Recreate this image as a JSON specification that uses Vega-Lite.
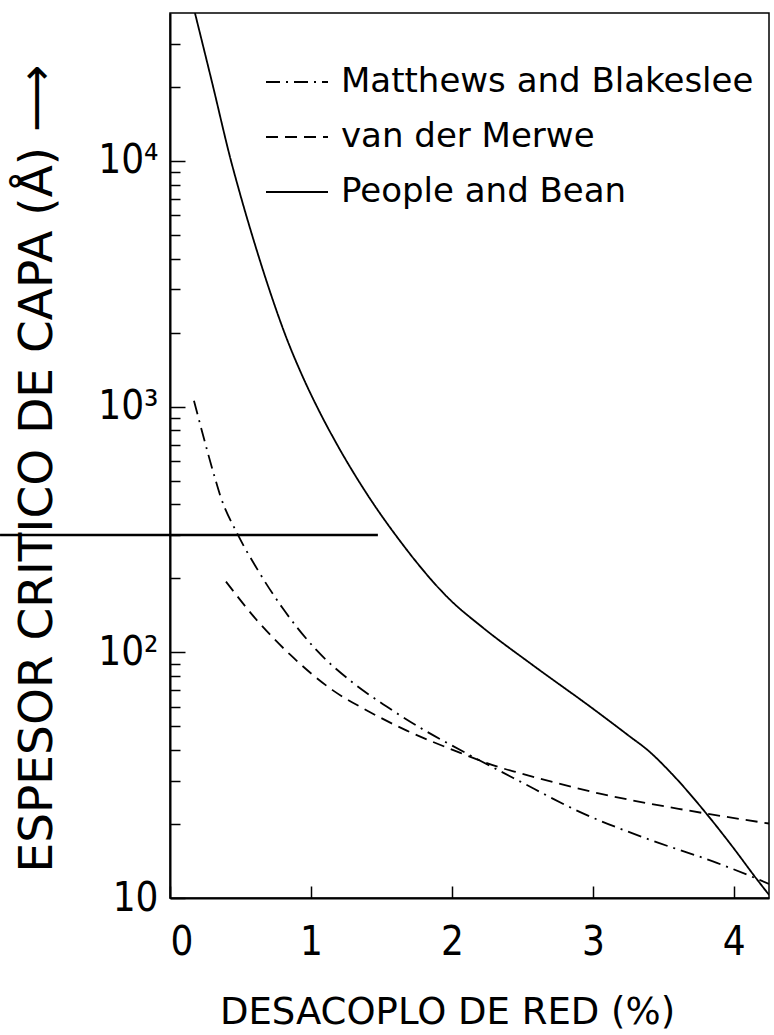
{
  "$schema": "https://vega.github.io/schema/vega-lite/v6.json",
  "width": 599,
  "height": 885,
  "autosize": {"type": "none"},
  "padding": {"left": 170, "top": 13, "right": 5, "bottom": 137},
  "background": "white",
  "config": {
    "view": {"stroke": "black", "strokeWidth": 1.5},
    "axis": {
      "grid": false,
      "domainColor": "black",
      "domainWidth": 2,
      "tickColor": "black",
      "tickWidth": 1.5,
      "labelColor": "black",
      "titleColor": "black",
      "labelFont": "Liberation Sans Narrow, DejaVu Sans Condensed, Liberation Sans, sans-serif",
      "labelFontSize": 40,
      "labelFontWeight": "normal",
      "titleFont": "DejaVu Sans, sans-serif",
      "titleFontWeight": "normal"
    }
  },
  "datasets": {
    "curves": [
      {"model": "People and Bean", "x": 0.177, "y": 40000},
      {"model": "People and Bean", "x": 0.30, "y": 20700},
      {"model": "People and Bean", "x": 0.433, "y": 10000},
      {"model": "People and Bean", "x": 0.496, "y": 7380},
      {"model": "People and Bean", "x": 0.60, "y": 4624},
      {"model": "People and Bean", "x": 0.709, "y": 2944},
      {"model": "People and Bean", "x": 0.82, "y": 1945},
      {"model": "People and Bean", "x": 0.943, "y": 1318},
      {"model": "People and Bean", "x": 1.06, "y": 955},
      {"model": "People and Bean", "x": 1.184, "y": 703},
      {"model": "People and Bean", "x": 1.383, "y": 454},
      {"model": "People and Bean", "x": 1.62, "y": 290},
      {"model": "People and Bean", "x": 1.99, "y": 163},
      {"model": "People and Bean", "x": 2.22, "y": 126},
      {"model": "People and Bean", "x": 2.57, "y": 89},
      {"model": "People and Bean", "x": 3.0, "y": 59},
      {"model": "People and Bean", "x": 3.25, "y": 46},
      {"model": "People and Bean", "x": 3.40, "y": 39.5},
      {"model": "People and Bean", "x": 3.55, "y": 32.5},
      {"model": "People and Bean", "x": 3.81, "y": 21.9},
      {"model": "People and Bean", "x": 3.99, "y": 16.2},
      {"model": "People and Bean", "x": 4.16, "y": 12.0},
      {"model": "People and Bean", "x": 4.25, "y": 10.3},
      {"model": "Matthews and Blakeslee", "x": 0.17, "y": 1057},
      {"model": "Matthews and Blakeslee", "x": 0.319, "y": 512},
      {"model": "Matthews and Blakeslee", "x": 0.355, "y": 437},
      {"model": "Matthews and Blakeslee", "x": 0.475, "y": 306},
      {"model": "Matthews and Blakeslee", "x": 0.617, "y": 219},
      {"model": "Matthews and Blakeslee", "x": 0.80, "y": 151},
      {"model": "Matthews and Blakeslee", "x": 1.04, "y": 102},
      {"model": "Matthews and Blakeslee", "x": 1.30, "y": 75},
      {"model": "Matthews and Blakeslee", "x": 1.54, "y": 60},
      {"model": "Matthews and Blakeslee", "x": 1.77, "y": 49.5},
      {"model": "Matthews and Blakeslee", "x": 2.06, "y": 40},
      {"model": "Matthews and Blakeslee", "x": 2.46, "y": 30.3},
      {"model": "Matthews and Blakeslee", "x": 2.93, "y": 22.1},
      {"model": "Matthews and Blakeslee", "x": 3.40, "y": 17.3},
      {"model": "Matthews and Blakeslee", "x": 3.88, "y": 13.9},
      {"model": "Matthews and Blakeslee", "x": 4.16, "y": 12.0},
      {"model": "Matthews and Blakeslee", "x": 4.25, "y": 11.4},
      {"model": "van der Merwe", "x": 0.397, "y": 194},
      {"model": "van der Merwe", "x": 0.617, "y": 135},
      {"model": "van der Merwe", "x": 0.851, "y": 98},
      {"model": "van der Merwe", "x": 1.156, "y": 70},
      {"model": "van der Merwe", "x": 1.397, "y": 58},
      {"model": "van der Merwe", "x": 1.68, "y": 48},
      {"model": "van der Merwe", "x": 2.01, "y": 40},
      {"model": "van der Merwe", "x": 2.34, "y": 34},
      {"model": "van der Merwe", "x": 2.46, "y": 32.5},
      {"model": "van der Merwe", "x": 3.05, "y": 26.6},
      {"model": "van der Merwe", "x": 3.64, "y": 22.9},
      {"model": "van der Merwe", "x": 4.25, "y": 20.1}
    ],
    "marker": [
      {"x": -1.206, "x2": 1.475, "y": 300}
    ]
  },
  "layer": [
    {
      "data": {"name": "curves"},
      "mark": {"type": "line", "color": "black", "strokeWidth": 1.8, "clip": true, "interpolate": "monotone"},
      "encoding": {
        "x": {
          "field": "x",
          "type": "quantitative",
          "scale": {"domain": [0, 4.25], "nice": false, "zero": false},
          "axis": {
            "values": [0, 1, 2, 3, 4],
            "format": "d",
            "tickSize": -12,
            "labelPadding": 36,
            "labelBaseline": "top",
            "title": "DESACOPLO DE RED (%)",
            "titleFontSize": 37,
            "titleX": 277,
            "titleY": 125,
            "titleAlign": "center",
            "titleBaseline": "alphabetic"
          }
        },
        "y": {
          "field": "y",
          "type": "quantitative",
          "scale": {"type": "log", "domain": [10, 40000], "nice": false},
          "axis": {
            "values": [10, 20, 30, 40, 50, 60, 70, 80, 90, 100, 200, 300, 400, 500, 600, 700, 800, 900, 1000, 2000, 3000, 4000, 5000, 6000, 7000, 8000, 9000, 10000, 20000, 30000],
            "labelExpr": "datum.value == 10 ? '10' : datum.value == 100 ? '10²' : datum.value == 1000 ? '10³' : datum.value == 10000 ? '10⁴' : ''",
            "tickSize": {"condition": {"test": "indexof([10, 100, 1000, 10000], datum.value) >= 0", "value": -15}, "value": -10},
            "labelPadding": 27,
            "labelBaseline": "middle",
            "title": "ESPESOR CRITICO DE CAPA (Å) ⟶",
            "titleFontSize": 47,
            "titleAngle": -90,
            "titleX": -133,
            "titleY": 455,
            "titleAlign": "center",
            "titleBaseline": "middle"
          }
        },
        "strokeDash": {
          "field": "model",
          "type": "nominal",
          "scale": {
            "domain": ["Matthews and Blakeslee", "van der Merwe", "People and Bean"],
            "range": [[14, 6, 2, 6], [12, 7], [1, 0]]
          },
          "legend": {
            "orient": "none",
            "legendX": 95,
            "legendY": 37,
            "title": null,
            "symbolType": "stroke",
            "symbolSize": 3844,
            "symbolStrokeWidth": 1.8,
            "symbolStrokeColor": "black",
            "labelFont": "DejaVu Sans, sans-serif",
            "labelFontSize": 34,
            "labelColor": "black",
            "labelLimit": 0,
            "labelOffset": 12,
            "rowPadding": 6,
            "padding": 0
          }
        }
      }
    },
    {
      "data": {"name": "marker"},
      "mark": {"type": "rule", "color": "black", "strokeWidth": 2.5, "clip": false},
      "encoding": {
        "x": {"field": "x", "type": "quantitative"},
        "x2": {"field": "x2"},
        "y": {"field": "y", "type": "quantitative"}
      }
    }
  ]
}
